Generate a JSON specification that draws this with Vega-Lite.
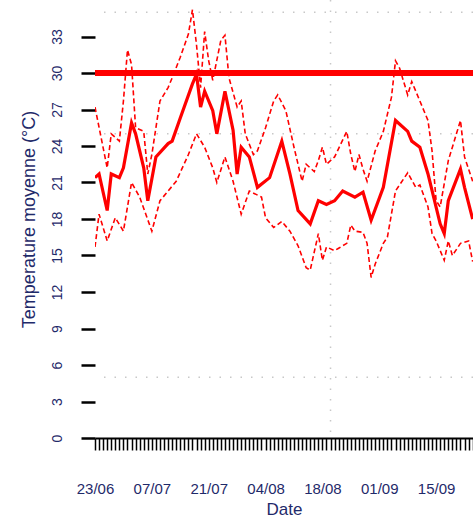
{
  "$schema": "https://vega.github.io/schema/vega-lite/v6.json",
  "width": 378,
  "height": 438,
  "autosize": "none",
  "padding": {"left": 95, "top": 0, "right": 0, "bottom": 92},
  "background": "white",
  "config": {"view": {"stroke": null}, "font": "Liberation Sans"},
  "datasets": {
    "one": [{}],
    "moy": [
      {"date": "2015-06-23", "t": 21.4}, {"date": "2015-06-24", "t": 21.7}, {"date": "2015-06-26", "t": 18.7},
      {"date": "2015-06-27", "t": 21.7}, {"date": "2015-06-29", "t": 21.4}, {"date": "2015-06-30", "t": 22.2},
      {"date": "2015-07-02", "t": 25.9}, {"date": "2015-07-03", "t": 25.0}, {"date": "2015-07-05", "t": 22.2},
      {"date": "2015-07-06", "t": 19.5}, {"date": "2015-07-08", "t": 23.1}, {"date": "2015-07-11", "t": 24.2},
      {"date": "2015-07-12", "t": 24.4}, {"date": "2015-07-14", "t": 26.3}, {"date": "2015-07-17", "t": 29.1},
      {"date": "2015-07-18", "t": 29.9}, {"date": "2015-07-19", "t": 27.2}, {"date": "2015-07-20", "t": 28.5},
      {"date": "2015-07-22", "t": 26.9}, {"date": "2015-07-23", "t": 25.0}, {"date": "2015-07-25", "t": 28.5},
      {"date": "2015-07-27", "t": 25.3}, {"date": "2015-07-28", "t": 21.7}, {"date": "2015-07-29", "t": 23.9},
      {"date": "2015-07-31", "t": 23.1}, {"date": "2015-08-02", "t": 20.6}, {"date": "2015-08-05", "t": 21.4},
      {"date": "2015-08-08", "t": 24.4}, {"date": "2015-08-10", "t": 21.7}, {"date": "2015-08-12", "t": 18.7},
      {"date": "2015-08-15", "t": 17.6}, {"date": "2015-08-17", "t": 19.5}, {"date": "2015-08-19", "t": 19.2},
      {"date": "2015-08-21", "t": 19.5}, {"date": "2015-08-23", "t": 20.3}, {"date": "2015-08-26", "t": 19.8},
      {"date": "2015-08-28", "t": 20.2}, {"date": "2015-08-30", "t": 17.9}, {"date": "2015-09-02", "t": 20.6},
      {"date": "2015-09-05", "t": 26.1}, {"date": "2015-09-08", "t": 25.2}, {"date": "2015-09-09", "t": 24.4},
      {"date": "2015-09-11", "t": 23.9}, {"date": "2015-09-13", "t": 21.7}, {"date": "2015-09-16", "t": 17.6},
      {"date": "2015-09-17", "t": 16.8}, {"date": "2015-09-18", "t": 19.5}, {"date": "2015-09-21", "t": 22.1},
      {"date": "2015-09-22", "t": 20.6}, {"date": "2015-09-24", "t": 18.0}
    ],
    "max": [
      {"date": "2015-06-23", "t": 27.2}, {"date": "2015-06-26", "t": 22.2}, {"date": "2015-06-27", "t": 25.0},
      {"date": "2015-06-29", "t": 24.4}, {"date": "2015-06-30", "t": 27.7}, {"date": "2015-07-01", "t": 31.9},
      {"date": "2015-07-02", "t": 30.7}, {"date": "2015-07-03", "t": 25.5}, {"date": "2015-07-05", "t": 25.2},
      {"date": "2015-07-06", "t": 21.7}, {"date": "2015-07-07", "t": 23.3}, {"date": "2015-07-09", "t": 27.7},
      {"date": "2015-07-11", "t": 28.8}, {"date": "2015-07-12", "t": 29.6}, {"date": "2015-07-14", "t": 31.3},
      {"date": "2015-07-16", "t": 33.2}, {"date": "2015-07-17", "t": 35.2}, {"date": "2015-07-18", "t": 32.3},
      {"date": "2015-07-19", "t": 28.8}, {"date": "2015-07-20", "t": 33.4}, {"date": "2015-07-21", "t": 31.0},
      {"date": "2015-07-22", "t": 29.4}, {"date": "2015-07-24", "t": 32.7}, {"date": "2015-07-25", "t": 33.1},
      {"date": "2015-07-26", "t": 29.6}, {"date": "2015-07-28", "t": 27.2}, {"date": "2015-07-29", "t": 27.7},
      {"date": "2015-07-30", "t": 25.0}, {"date": "2015-08-01", "t": 23.3}, {"date": "2015-08-02", "t": 23.6},
      {"date": "2015-08-04", "t": 25.5}, {"date": "2015-08-06", "t": 27.7}, {"date": "2015-08-07", "t": 28.2},
      {"date": "2015-08-09", "t": 26.9}, {"date": "2015-08-11", "t": 23.9}, {"date": "2015-08-13", "t": 21.1},
      {"date": "2015-08-14", "t": 22.5}, {"date": "2015-08-16", "t": 21.9}, {"date": "2015-08-17", "t": 22.8},
      {"date": "2015-08-18", "t": 23.9}, {"date": "2015-08-19", "t": 22.5}, {"date": "2015-08-21", "t": 23.1},
      {"date": "2015-08-24", "t": 25.2}, {"date": "2015-08-25", "t": 23.3}, {"date": "2015-08-26", "t": 21.9},
      {"date": "2015-08-27", "t": 23.3}, {"date": "2015-08-28", "t": 22.1}, {"date": "2015-08-29", "t": 21.1},
      {"date": "2015-08-31", "t": 23.6}, {"date": "2015-09-02", "t": 25.2}, {"date": "2015-09-04", "t": 28.0},
      {"date": "2015-09-05", "t": 31.0}, {"date": "2015-09-06", "t": 30.4}, {"date": "2015-09-08", "t": 28.2},
      {"date": "2015-09-09", "t": 29.3}, {"date": "2015-09-11", "t": 27.7}, {"date": "2015-09-13", "t": 26.1},
      {"date": "2015-09-14", "t": 23.6}, {"date": "2015-09-15", "t": 19.5}, {"date": "2015-09-16", "t": 19.0},
      {"date": "2015-09-18", "t": 22.8}, {"date": "2015-09-20", "t": 25.0}, {"date": "2015-09-21", "t": 26.1},
      {"date": "2015-09-22", "t": 23.1}, {"date": "2015-09-24", "t": 21.1}
    ],
    "min": [
      {"date": "2015-06-23", "t": 15.7}, {"date": "2015-06-24", "t": 18.4}, {"date": "2015-06-26", "t": 16.2},
      {"date": "2015-06-28", "t": 18.1}, {"date": "2015-06-30", "t": 17.0}, {"date": "2015-07-02", "t": 21.0},
      {"date": "2015-07-04", "t": 19.8}, {"date": "2015-07-07", "t": 17.0}, {"date": "2015-07-09", "t": 19.5},
      {"date": "2015-07-11", "t": 20.3}, {"date": "2015-07-13", "t": 21.1}, {"date": "2015-07-16", "t": 23.3},
      {"date": "2015-07-18", "t": 25.0}, {"date": "2015-07-20", "t": 23.9}, {"date": "2015-07-22", "t": 22.2},
      {"date": "2015-07-23", "t": 21.0}, {"date": "2015-07-25", "t": 23.1}, {"date": "2015-07-27", "t": 21.1},
      {"date": "2015-07-29", "t": 18.4}, {"date": "2015-07-31", "t": 20.3}, {"date": "2015-08-03", "t": 19.8},
      {"date": "2015-08-04", "t": 18.1}, {"date": "2015-08-06", "t": 17.3}, {"date": "2015-08-08", "t": 17.8},
      {"date": "2015-08-10", "t": 17.0}, {"date": "2015-08-12", "t": 15.8}, {"date": "2015-08-14", "t": 14.0},
      {"date": "2015-08-15", "t": 13.8}, {"date": "2015-08-17", "t": 16.8}, {"date": "2015-08-18", "t": 14.6},
      {"date": "2015-08-19", "t": 15.7}, {"date": "2015-08-21", "t": 15.4}, {"date": "2015-08-22", "t": 15.6},
      {"date": "2015-08-24", "t": 16.0}, {"date": "2015-08-25", "t": 17.5}, {"date": "2015-08-26", "t": 17.0},
      {"date": "2015-08-28", "t": 16.9}, {"date": "2015-08-29", "t": 16.0}, {"date": "2015-08-30", "t": 13.2},
      {"date": "2015-08-31", "t": 14.3}, {"date": "2015-09-02", "t": 16.0}, {"date": "2015-09-03", "t": 16.5},
      {"date": "2015-09-05", "t": 20.3}, {"date": "2015-09-08", "t": 21.8}, {"date": "2015-09-10", "t": 20.6},
      {"date": "2015-09-11", "t": 20.8}, {"date": "2015-09-13", "t": 19.0}, {"date": "2015-09-14", "t": 16.8},
      {"date": "2015-09-15", "t": 16.2}, {"date": "2015-09-17", "t": 14.6}, {"date": "2015-09-18", "t": 16.2},
      {"date": "2015-09-19", "t": 15.0}, {"date": "2015-09-21", "t": 16.0}, {"date": "2015-09-23", "t": 16.2},
      {"date": "2015-09-24", "t": 14.5}
    ]
  },
  "layer": [
    {
      "data": {"name": "one"},
      "mark": {"type": "rule", "color": "#c8c8c8", "strokeWidth": 1.5, "strokeDash": [1.5, 9]},
      "encoding": {"y": {"datum": 5, "type": "quantitative"}}
    },
    {
      "data": {"name": "one"},
      "mark": {"type": "rule", "color": "#c8c8c8", "strokeWidth": 1.5, "strokeDash": [1.5, 9]},
      "encoding": {"y": {"datum": 25, "type": "quantitative"}}
    },
    {
      "data": {"name": "one"},
      "mark": {"type": "rule", "color": "#c8c8c8", "strokeWidth": 1.5, "strokeDash": [1.5, 9]},
      "encoding": {"y": {"datum": 35, "type": "quantitative"}}
    },
    {
      "data": {"name": "one"},
      "mark": {"type": "rule", "color": "#c8c8c8", "strokeWidth": 1.5, "strokeDash": [1.5, 9]},
      "encoding": {"x": {"datum": {"year": 2015, "month": 8, "date": 20, "utc": true}, "type": "temporal"}}
    },
    {
      "data": {"name": "max"},
      "mark": {"type": "line", "color": "#ff0000", "strokeWidth": 1.6, "strokeDash": [5, 3], "clip": true},
      "encoding": {
        "x": {"field": "date", "type": "temporal"},
        "y": {"field": "t", "type": "quantitative"}
      }
    },
    {
      "data": {"name": "min"},
      "mark": {"type": "line", "color": "#ff0000", "strokeWidth": 1.6, "strokeDash": [5, 3], "clip": true},
      "encoding": {
        "x": {"field": "date", "type": "temporal"},
        "y": {"field": "t", "type": "quantitative"}
      }
    },
    {
      "data": {"name": "one"},
      "mark": {"type": "rule", "color": "#ff0000", "strokeWidth": 6},
      "encoding": {"y": {"datum": 30, "type": "quantitative"}}
    },
    {
      "data": {"name": "moy"},
      "mark": {"type": "line", "color": "#ff0000", "strokeWidth": 3.2, "clip": true},
      "encoding": {
        "x": {
          "field": "date",
          "type": "temporal",
          "scale": {
            "type": "utc",
            "domain": [
              {"year": 2015, "month": 6, "date": 23, "utc": true},
              {"year": 2015, "month": 9, "date": 24, "hours": 2, "utc": true}
            ]
          },
          "axis": {
            "title": "Date",
            "titleFontSize": 17,
            "titleColor": "#1f2a6a",
            "titleFontWeight": "normal",
            "titlePadding": 5,
            "labelFontSize": 15,
            "labelColor": "#1f2a6a",
            "labelPadding": 31,
            "tickSize": 12,
            "tickWidth": 1.5,
            "tickColor": "black",
            "domainColor": "black",
            "domainWidth": 2,
            "grid": false,
            "tickCount": {"interval": "day", "step": 1},
            "labelExpr": "round((datum.value - utc(2015,5,23))/86400000) % 14 == 0 ? utcFormat(datum.value, '%d/%m') : ''",
            "labelOverlap": false,
            "labelFlush": false
          }
        },
        "y": {
          "field": "t",
          "type": "quantitative",
          "scale": {"domain": [0, 36], "nice": false, "zero": false},
          "axis": {
            "title": "Temperature moyenne (°C)",
            "titleFontSize": 18,
            "titleColor": "#1f2a6a",
            "titleFontWeight": "normal",
            "titlePadding": 12,
            "values": [0, 3, 6, 9, 12, 15, 18, 21, 24, 27, 30, 33],
            "tickCount": 24,
            "labelAngle": -90,
            "labelAlign": "center",
            "labelBaseline": "bottom",
            "labelFontSize": 14,
            "labelColor": "#1f2a6a",
            "labelPadding": 17,
            "labelOverlap": false,
            "tickSize": 14,
            "tickWidth": 2.5,
            "tickColor": "black",
            "domain": false,
            "grid": false
          }
        }
      }
    }
  ]
}
